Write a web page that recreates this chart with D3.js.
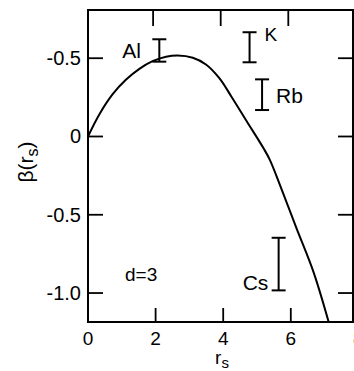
<!DOCTYPE html>
<html>
<head>
<meta charset="utf-8">
<script src="https://cdn.jsdelivr.net/npm/d3@7"></script>
<style>
  html, body { margin: 0; padding: 0; background: #fff; }
  svg { display: block; }
  text { font-family: "Liberation Sans", Arial, sans-serif; fill: #000; }
</style>
</head>
<body>
<svg id="chart" width="354" height="371"></svg>
<script>
// beta(r_s) curve for d = 3
const curveR    = [0, 0.33, 0.73, 1.12, 1.52, 1.91, 2.31, 2.65, 3.10, 3.49, 3.88, 4.24, 4.70, 5.19, 5.38, 5.68, 6.17, 6.67, 7.12];
const curveBeta = [0, 0.139, 0.27, 0.362, 0.432, 0.481, 0.509, 0.517, 0.503, 0.46, 0.374, 0.256, 0.096, -0.074, -0.149, -0.31, -0.587, -0.865, -1.185];

// experimental ranges for the alkali metals and Al
const metals    = ["Al", "K", "Rb", "Cs"];
const metalR    = [2.11, 4.78, 5.15, 5.64];
const metalLow  = [0.478, 0.474, 0.169, -0.983];
const metalHigh = [0.621, 0.666, 0.365, -0.647];

// axis ticks
const xTicks = [0, 2, 4, 6, 8];
const xTickLabels = ["0", "2", "4", "6", "8"];
const yTicks = [0.5, 0, -0.5, -1.0];
const yTickLabels = ["-0.5", "0", "-0.5", "-1.0"];

const svg = d3.select("#chart");
const x = d3.scaleLinear().domain([0, 8]).range([88, 358.4]);
const y = d3.scaleLinear().domain([-1.185, 0.808]).range([322, 10]);
const xMax = 7.84;

const g = svg.append("g");

// frame
g.append("rect")
  .attr("x", x(0)).attr("y", y(0.808))
  .attr("width", x(xMax) - x(0)).attr("height", y(-1.185) - y(0.808))
  .attr("fill", "none").attr("stroke", "#000").attr("stroke-width", 2);

// inward ticks on all four sides
const tl = 15;
xTicks.filter(t => t > 0 && t < xMax).forEach(t => {
  g.append("line").attr("x1", x(t)).attr("x2", x(t)).attr("y1", y(-1.185)).attr("y2", y(-1.185) - 14)
    .attr("stroke", "#000").attr("stroke-width", 1.8);
  g.append("line").attr("x1", x(t) - 2.5).attr("x2", x(t) - 2.5).attr("y1", y(0.808)).attr("y2", y(0.808) + 16)
    .attr("stroke", "#000").attr("stroke-width", 1.8);
});
yTicks.forEach(t => {
  g.append("line").attr("x1", x(0)).attr("x2", x(0) + tl).attr("y1", y(t)).attr("y2", y(t))
    .attr("stroke", "#000").attr("stroke-width", 1.8);
  g.append("line").attr("x1", x(xMax)).attr("x2", x(xMax) - tl).attr("y1", y(t)).attr("y2", y(t))
    .attr("stroke", "#000").attr("stroke-width", 1.8);
});

// tick labels
xTicks.forEach((t, i) => {
  g.append("text").attr("x", x(t)).attr("y", 345)
    .attr("text-anchor", "middle").attr("font-size", 19).text(xTickLabels[i]);
});
yTicks.forEach((t, i) => {
  g.append("text").attr("x", 81).attr("y", y(t) + 7)
    .attr("text-anchor", "end").attr("font-size", 20).text(yTickLabels[i]);
});

// axis titles
const xl = g.append("text").attr("x", 222).attr("y", 364).attr("text-anchor", "middle").attr("font-size", 19);
xl.append("tspan").text("r");
xl.append("tspan").attr("font-size", 15).attr("dy", 4).text("s");

const yl = g.append("text").attr("transform", "translate(33,162) rotate(-90)")
  .attr("text-anchor", "middle").attr("font-size", 21);
yl.append("tspan").text("β(r");
yl.append("tspan").attr("font-size", 16).attr("dy", 5).text("s");
yl.append("tspan").attr("dy", -5).text(")");

// curve
const pts = curveR.map((r, i) => [r, curveBeta[i]]);
g.append("path")
  .datum(pts)
  .attr("d", d3.line().x(d => x(d[0])).y(d => y(d[1])).curve(d3.curveCatmullRom.alpha(0.5)))
  .attr("fill", "none").attr("stroke", "#000").attr("stroke-width", 2);

// error bars
const cap = 7;
metals.forEach((m, i) => {
  const cx = x(metalR[i]);
  g.append("line").attr("x1", cx).attr("x2", cx).attr("y1", y(metalLow[i])).attr("y2", y(metalHigh[i]))
    .attr("stroke", "#000").attr("stroke-width", 2);
  [metalLow[i], metalHigh[i]].forEach(v => {
    g.append("line").attr("x1", cx - cap).attr("x2", cx + cap).attr("y1", y(v)).attr("y2", y(v))
      .attr("stroke", "#000").attr("stroke-width", 2);
  });
});

// element labels
const labelPos = {
  "Al": { dx: -37, v: "mid", size: 21 },
  "K":  { dx: 15, v: "top", size: 19 },
  "Rb": { dx: 14, v: "mid", size: 21 },
  "Cs": { dx: -36, v: "bot", size: 21 }
};
metals.forEach((m, i) => {
  const p = labelPos[m];
  const cx = x(metalR[i]);
  let by;
  if (p.v === "mid") by = (y(metalLow[i]) + y(metalHigh[i])) / 2 + 8;
  else if (p.v === "top") by = y(metalHigh[i]) + 9;
  else by = y(metalLow[i]);
  g.append("text").attr("x", cx + p.dx).attr("y", by)
    .attr("text-anchor", "start").attr("font-size", p.size).text(m);
});

// dimension note
g.append("text").attr("x", 125).attr("y", 281).attr("font-size", 19).text("d=3");
</script>
</body>
</html>
